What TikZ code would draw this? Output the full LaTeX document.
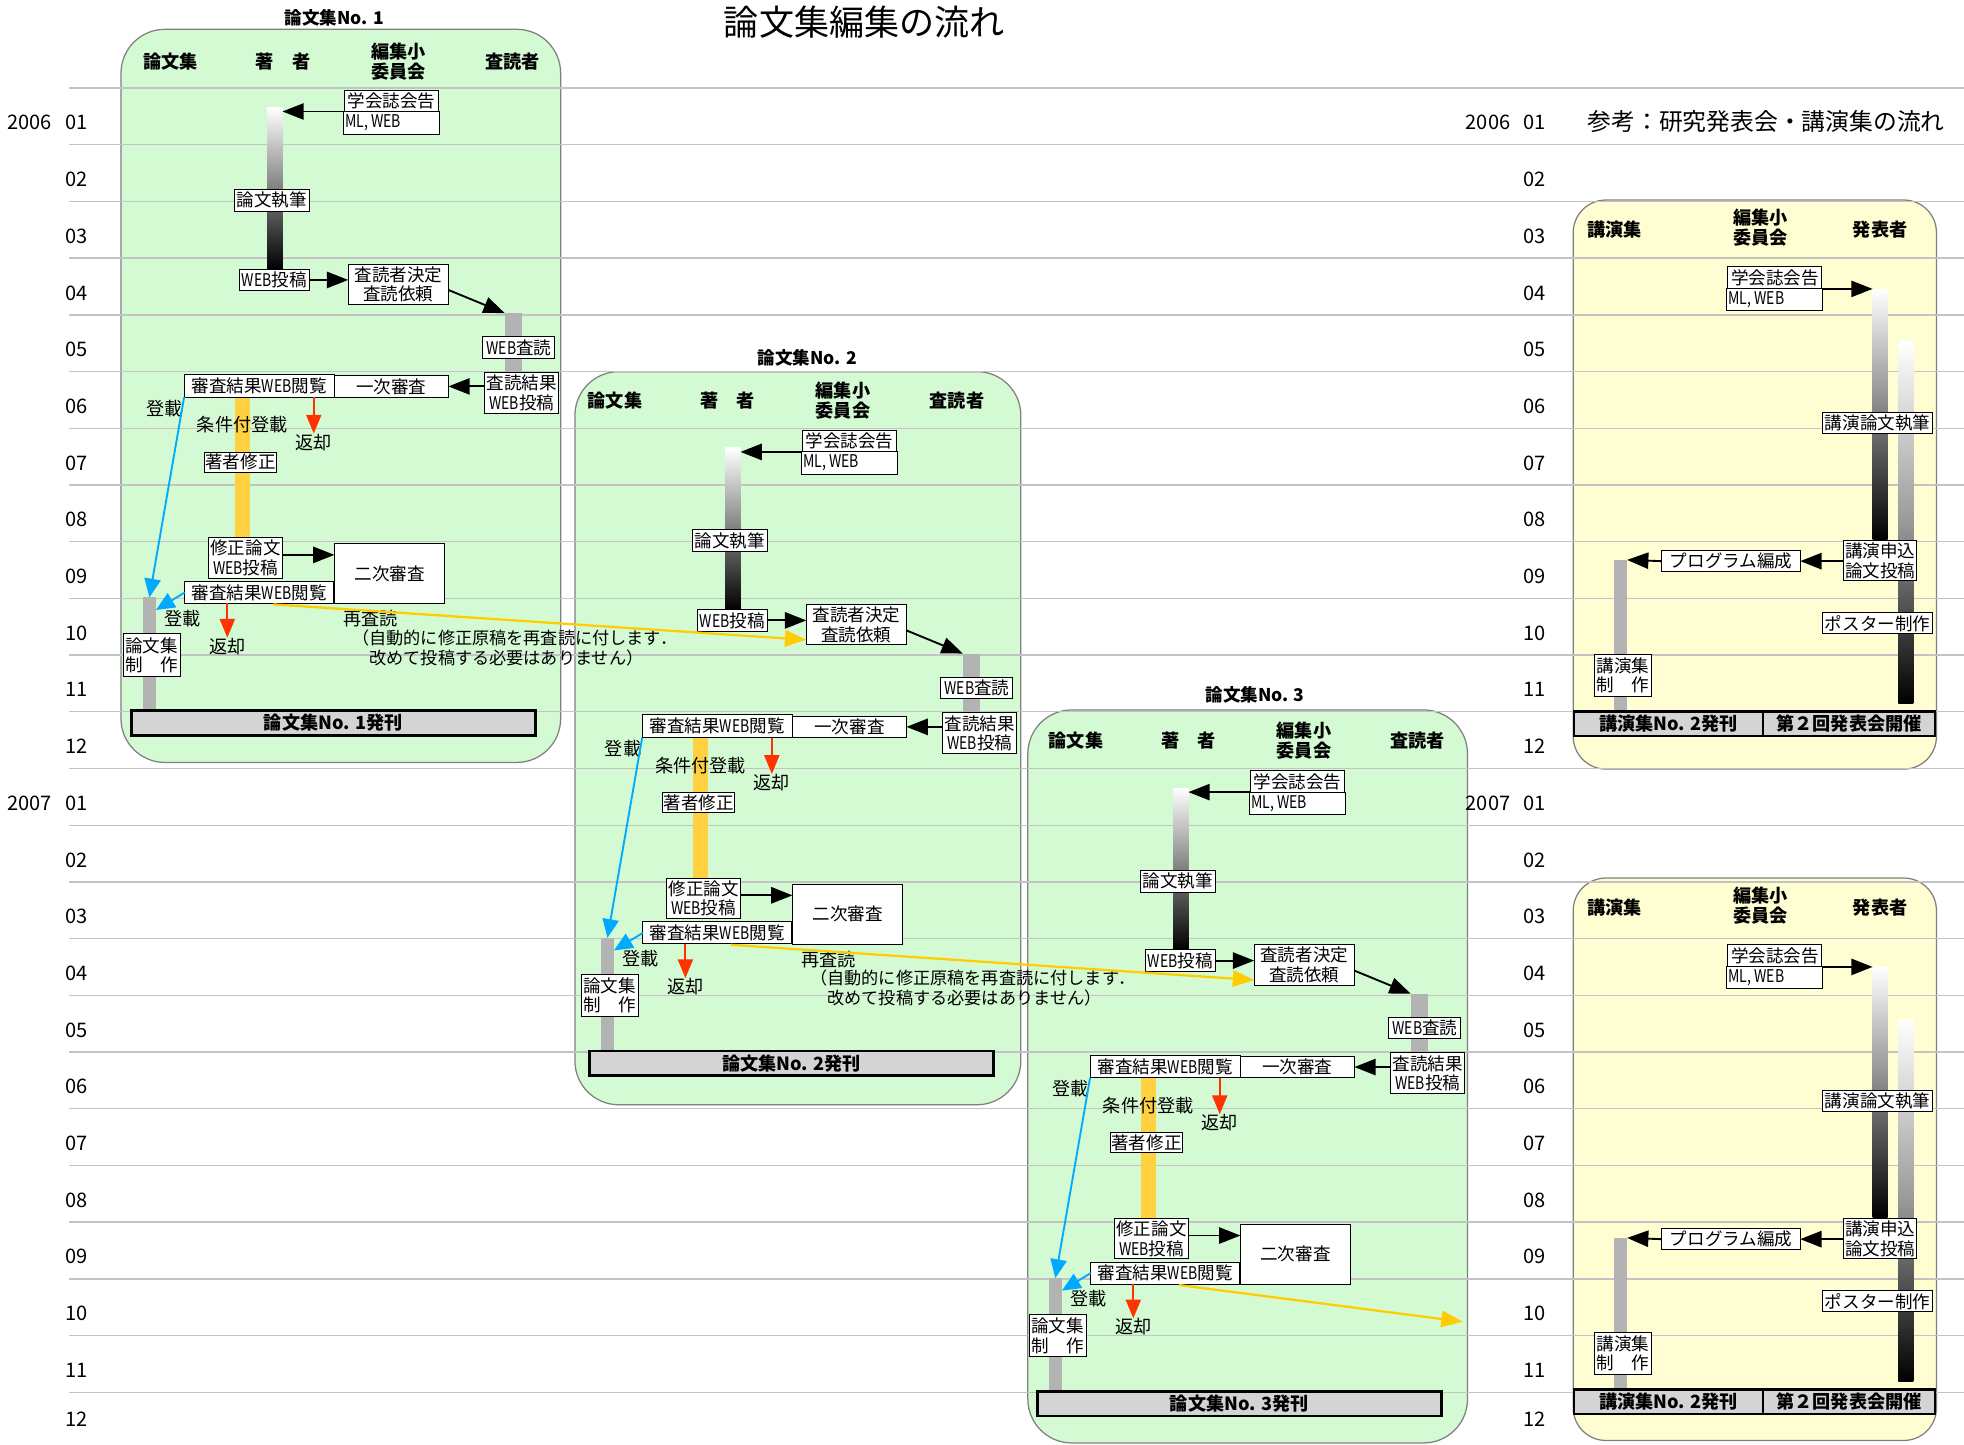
\documentclass[tikz,border=0pt]{standalone}
\usepackage{fontspec}
\usepackage{graphicx}
\setmainfont{Noto Sans CJK JP}
\usetikzlibrary{arrows.meta,calc}
\definecolor{grn}{RGB}{212,250,212}
\definecolor{ylw}{RGB}{255,253,210}
\definecolor{gridc}{RGB}{195,195,195}
\definecolor{barg}{RGB}{179,179,179}
\definecolor{orng}{RGB}{255,208,64}
\definecolor{blu}{RGB}{0,170,255}
\definecolor{redc}{RGB}{255,51,0}
\definecolor{ylarrow}{RGB}{255,204,0}
\definecolor{pubg}{RGB}{212,212,212}
\newcommand\flowfont{\fontsize{14}{15.5}\selectfont}
\newcommand\hdrfont{\fontsize{14.5}{16}\selectfont\bfseries}
\newcommand\webtxt{\scalebox{0.8}[1]{WEB}}
\tikzset{
 fbox/.style={draw=black, line width=0.8pt, fill=white, inner sep=0pt, outer sep=0pt, font=\flowfont, align=center},
 lbl/.style={inner sep=0pt, font=\fontsize{14.5}{16}\selectfont},
 hdr/.style={inner sep=0pt, font=\hdrfont, align=center},
 btitle/.style={inner sep=0pt, font=\fontsize{14}{15}\selectfont\bfseries},
 gbar/.style={inner sep=0pt, outer sep=0pt, minimum width=12pt, draw=none},
 pubbar/.style={draw=black, line width=2pt, fill=pubg, inner sep=0pt, font=\fontsize{14.5}{15}\selectfont\bfseries},
 blk/.style={draw=black, line width=1.5pt, -{Triangle[length=17pt,width=13pt]}},
 bluar/.style={draw=blu, line width=1.5pt, -{Triangle[length=15pt,width=13pt]}},
 redar/.style={draw=redc, line width=1.5pt, -{Triangle[length=15pt,width=12pt]}},
 ylwar/.style={draw=ylarrow, line width=1.8pt, -{Triangle[length=17pt,width=13pt]}},
 gbox/.style={draw=gray, line width=1pt, fill=grn, rounded corners=35pt},
 ybox/.style={draw=gray, line width=1pt, fill=ylw, rounded corners=26pt},
 gridline/.style={draw=gridc, line width=1.1pt},
 monthlbl/.style={inner sep=0pt, font=\fontsize{16}{18}\selectfont},
}
% paper flow: #1 prefix, #2 number, #3 content shift, #4 header shift, #5 title position
\newcommand\paperflow[5]{%
\node[btitle] (#1title) at #5 {論文集No. #2};
\begin{scope}[shift={#4}]
 \node[hdr] (#1h1) at (136,49) {論文集};
 \node[hdr] (#1h2) at (226,49) {著　者};
 \node[hdr] (#1h3) at (318,49) {編集小\\委員会};
 \node[hdr] (#1h4) at (409,49) {査読者};
\end{scope}
\begin{scope}[shift={#3}]
 \node[gbar, minimum height=129.3pt, top color=white, bottom color=black] (#1abar) at (219.5,150.4) {};
 \node[gbar, minimum width=13.5pt, minimum height=48pt, fill=barg] (#1rbar) at (409.75,274) {};
 \node[gbar, minimum height=112.5pt, fill=orng] (#1obar) at (193.6,373.25) {};
 \node[gbar, minimum width=10.5pt, minimum height=91pt, fill=barg] (#1pbar) at (119.25,522.5) {};
 \node[fbox, minimum width=75pt, minimum height=17pt] (#1ann) at (312.5,80.5) {学会誌会告};
 \node[fbox, minimum width=76pt, minimum height=18pt, font=\fontsize{14}{15}\selectfont] (#1ml) at (312.5,98) {\makebox[74pt][l]{\scalebox{0.8}[1]{ML, WEB}}};
 \node[fbox, minimum width=59.5pt, minimum height=17.5pt] (#1write) at (217,160) {論文執筆};
 \node[fbox, minimum width=56pt, minimum height=17pt] (#1post) at (219,223.5) {\webtxt 投稿};
 \node[fbox, minimum width=80pt, minimum height=32pt] (#1req) at (318,227) {査読者決定\\査読依頼};
 \node[fbox, minimum width=57.5pt, minimum height=17pt] (#1webrev) at (414.25,277.5) {\webtxt 査読};
 \node[fbox, minimum width=59pt, minimum height=33pt] (#1res) at (416.5,313.5) {査読結果\\\webtxt 投稿};
 \node[fbox, minimum width=91pt, minimum height=17pt] (#1first) at (312.5,308.5) {一次審査};
 \node[fbox, minimum width=120pt, minimum height=18pt] (#1view) at (207,308) {審査結果\webtxt 閲覧};
 \node[lbl] (#1pub1) at (131.7,326) {登載};
 \node[lbl] (#1cond) at (193.5,339.3) {条件付登載};
 \node[lbl] (#1ret1) at (250.5,353) {返却};
 \node[fbox, minimum width=58pt, minimum height=16pt] (#1fix) at (192,369) {著者修正};
 \node[fbox, minimum width=59.5pt, minimum height=32pt] (#1rev) at (196,445.5) {修正論文\\\webtxt 投稿};
 \node[fbox, minimum width=88pt, minimum height=48pt] (#1second) at (311,458) {二次審査};
 \node[fbox, minimum width=119pt, minimum height=17.5pt] (#1view2) at (207,473) {審査結果\webtxt 閲覧};
 \node[lbl] (#1pub2) at (145.5,493.5) {登載};
 \node[lbl] (#1ret2) at (181.5,516) {返却};
 \node[fbox, minimum width=45.5pt, minimum height=33.7pt] (#1make) at (121,523) {論文集\\制　作};
 \node[pubbar, minimum width=322.5pt, minimum height=19.6pt] (#1pub) at (266.25,577.2) {論文集No. #2発刊};
 \coordinate (#1ys) at (218,482.5);
 \draw[blk] (#1ml.north west) -- (#1ml.north west -| #1abar.east);
 \draw[blk] (#1post.east) -- (#1post.east -| #1req.west);
 \draw[blk] ($(#1req.east)+(0,4.5)$) -- (#1rbar.north west);
 \draw[blk] (#1res.west |- #1first.east) -- (#1first.east);
 \draw[bluar] (#1view.south west) -- (#1pbar.north);
 \draw[redar] (#1ret1.north |- #1view.south) -- (#1ret1.north);
 \draw[blk] ($(#1rev.east)+(0,-2.5)$) -- ($(#1rev.east -| #1second.west)+(0,-2.5)$);
 \draw[bluar] (#1view2.west) -- ($(#1pbar.north east)+(0,10)$);
 \draw[redar] (#1ret2.north |- #1view2.south) -- (#1ret2.north);
\end{scope}}
% note: #1 prefix, #2 shift
\newcommand\rereadnote[2]{%
\begin{scope}[shift={#2}]
 \node[lbl] (#1reread) at (296,494) {再査読};
 \node[lbl, anchor=west, align=left, font=\fontsize{13.7}{16}\selectfont] (#1note) at (281,517) {（自動的に修正原稿を再査読に付します．\\　改めて投稿する必要はありません）};
\end{scope}}
% talk flow: #1 prefix, #2 shift
\newcommand\talkflow[2]{%
\begin{scope}[shift={#2}]
 \node[hdr] (#1h1) at (1289,183.6) {講演集};
 \node[hdr] (#1h2) at (1405.6,181.5) {編集小\\委員会};
 \node[hdr] (#1h3) at (1501,183) {発表者};
 \node[gbar, minimum height=200pt, top color=white, bottom color=black] (#1bar1) at (1501,331) {};
 \node[gbar, minimum height=288.7pt, top color=white, bottom color=black, middle color=black!40] (#1bar2) at (1521.5,417.2) {};
 \node[gbar, minimum width=10.4pt, minimum height=121pt, fill=barg] (#1kbar) at (1293.8,507.5) {};
 \node[fbox, minimum width=75pt, minimum height=17pt] (#1ann) at (1417,221.5) {学会誌会告};
 \node[fbox, minimum width=76.6pt, minimum height=17.3pt, font=\fontsize{14}{15}\selectfont] (#1ml) at (1417,239.3) {\makebox[74pt][l]{\scalebox{0.8}[1]{ML, WEB}}};
 \node[fbox, minimum width=87.6pt, minimum height=16.8pt] (#1write) at (1499,337.4) {講演論文執筆};
 \node[fbox, minimum width=58pt, minimum height=32pt] (#1apply) at (1501,447.6) {講演申込\\論文投稿};
 \node[fbox, minimum width=110.5pt, minimum height=16.8pt] (#1prog) at (1382,448) {プログラム編成};
 \node[fbox, minimum width=46pt, minimum height=33.7pt] (#1make) at (1295.6,539) {講演集\\制　作};
 \node[fbox, minimum width=87.6pt, minimum height=17pt] (#1poster) at (1499,497.6) {ポスター制作};
 \node[pubbar, minimum width=151.2pt, minimum height=19.6pt] (#1puba) at (1332.1,577.8) {講演集No. 2発刊};
 \node[pubbar, minimum width=137.1pt, minimum height=19.6pt] (#1pubb) at (1476.25,577.8) {第２回発表会開催};
 \draw[blk] (#1ml.north east) -- (#1ml.north east -| #1bar1.west);
 \draw[blk] (#1apply.west |- #1prog.east) -- (#1prog.east);
 \draw[blk] (#1prog.west) -- (#1kbar.north east);
\end{scope}}
\begin{document}
\begin{tikzpicture}[x=1pt,y=-1pt]
\useasboundingbox (0,0) rectangle (1568,1153);
\fill[white] (0,0) rectangle (1568,1153);
% panels
\draw[gbox] (96.6,23.4) rectangle (447.6,608.7);
\draw[gbox] (459,296.7) rectangle (815,882);
\draw[gbox] (820.6,566.8) rectangle (1171.6,1152);
\draw[ybox] (1256,159.7) rectangle (1546,614);
\draw[ybox] (1256,701) rectangle (1546,1150);
% grid lines
\foreach \k in {0,...,23}{\draw[gridline] (55,{70.3+45.27*\k}) -- (1568,{70.3+45.27*\k});}
% month labels
\foreach \i in {0,...,23}{
 \pgfmathtruncatemacro\mm{mod(\i,12)+1}
 \pgfmathsetmacro\yy{min(98+45.27*\i,1133)}
 \node[monthlbl] (lm\i) at (61,\yy) {\ifnum\mm<10 0\fi\mm};
 \node[monthlbl] (rm\i) at (1225,\yy) {\ifnum\mm<10 0\fi\mm};
}
\node[monthlbl] (ly1) at (23.5,98) {2006};
\node[monthlbl] (ly2) at (23.5,641.2) {2007};
\node[monthlbl] (ry1) at (1188,98) {2006};
\node[monthlbl] (ry2) at (1188,641.2) {2007};
% titles
\node[inner sep=0pt, font=\fontsize{28}{30}\selectfont] (maintitle) at (690,18) {論文集編集の流れ};
\node[inner sep=0pt, font=\fontsize{19}{21}\selectfont] (reftitle) at (1410,97) {参考：研究発表会・講演集の流れ};
% paper flows
\paperflow{p1}{1}{(0,0)}{(0,0)}{(267,14)}
\paperflow{p2}{2}{(365.7,271.8)}{(355,270.5)}{(644.6,286)}
\paperflow{p3}{3}{(723.3,543.4)}{(723,542)}{(1002,555)}
\rereadnote{p1}{(0,0)}
\rereadnote{p2}{(365.7,271.8)}
\coordinate (p3end) at (1167.7,1055.2);
\draw[ylwar] (p1ys) -- ($(p2req.south west)+(0,-4)$);
\draw[ylwar] (p2ys) -- ($(p3req.south west)+(0,-4)$);
\draw[ylwar] (p3ys) -- (p3end);
% talk flows
\talkflow{k1}{(0,0)}
\talkflow{k2}{(0,541.3)}
\end{tikzpicture}
\end{document}
